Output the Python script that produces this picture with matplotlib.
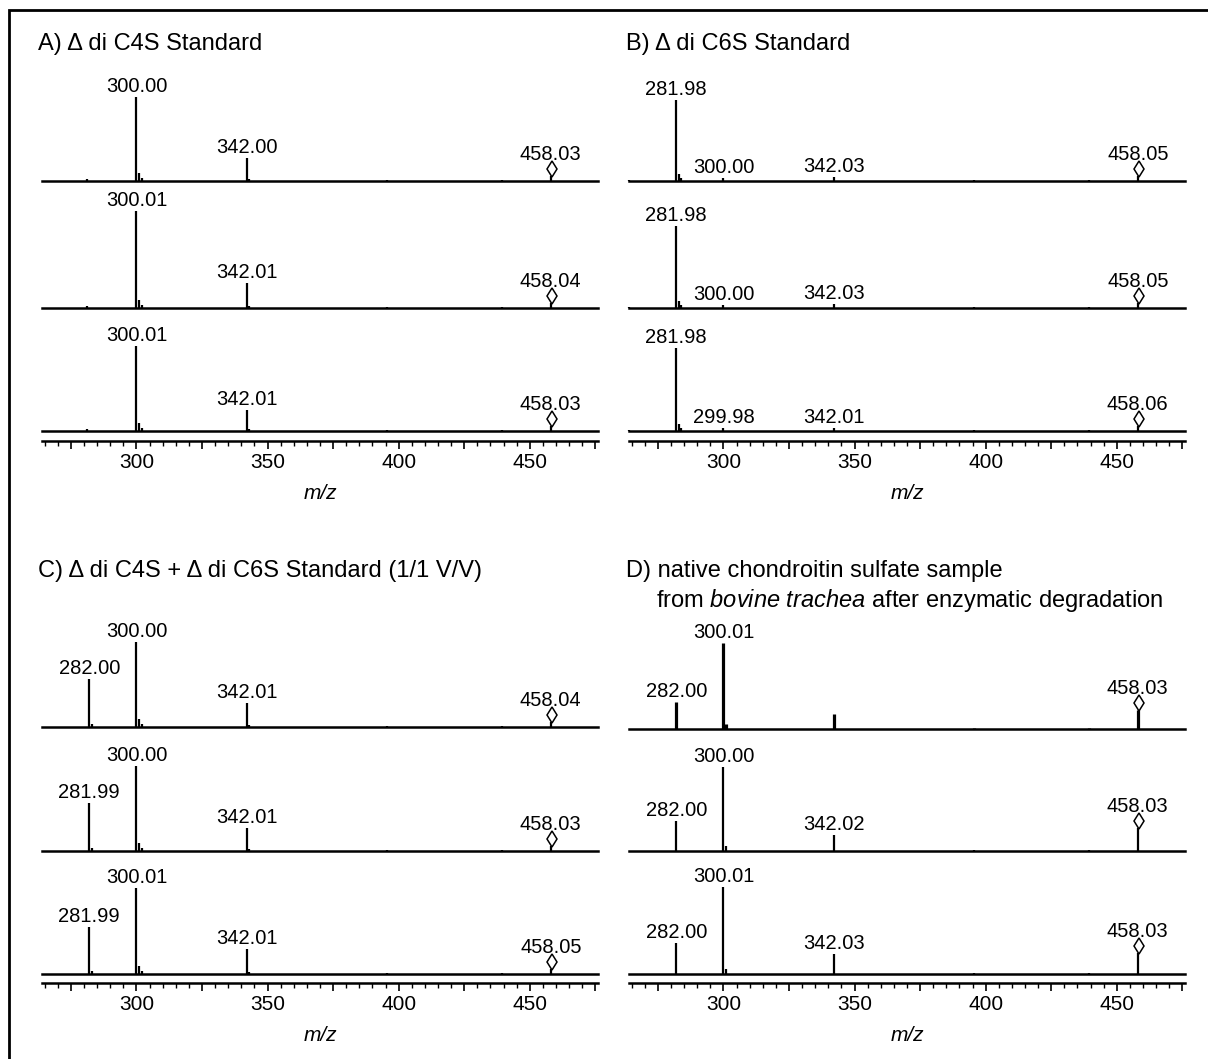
import matplotlib
matplotlib.use("Agg")
import matplotlib.pyplot as plt
from matplotlib.ticker import MultipleLocator, FuncFormatter
from matplotlib.transforms import offset_copy
from matplotlib.patches import Rectangle

plt.rcParams['font.family'] = ['Liberation Sans', 'DejaVu Sans']
plt.rcParams['mathtext.fontset'] = 'custom'
plt.rcParams['mathtext.rm'] = 'Liberation Sans'
plt.rcParams['mathtext.it'] = 'Liberation Sans:italic'

# ---- data (relative intensities) ----
a_mz = [281.0, 300.0, 301.0, 302.0, 342.0, 343.0, 395.5, 439.5, 458.0]
a_int = [
    [2, 100, 9, 3, 27, 2, 1.5, 1.5, 6],
    [2, 116, 10, 3, 30, 2, 1.5, 1.5, 6],
    [2, 101, 9, 3, 25, 2, 1.5, 1.5, 6],
]
a_label_mz = [300.0, 342.0, 458.0]
a_labels = [
    ["300.00", "342.00", "458.03"],
    ["300.01", "342.01", "458.04"],
    ["300.01", "342.01", "458.03"],
]

b_mz = [264.0, 282.0, 283.0, 284.0, 300.0, 342.0, 395.5, 439.5, 458.0]
b_int = [
    [1.5, 97, 8, 3, 4, 5, 1.5, 1.5, 6],
    [1.5, 98, 8, 3, 4, 5, 1.5, 1.5, 6],
    [1.5, 99, 8, 3, 4, 4, 1.5, 1.5, 6],
]
b_label_mz = [282.0, 300.0, 342.0, 458.0]
b_labels = [
    ["281.98", "300.00", "342.03", "458.05"],
    ["281.98", "300.00", "342.03", "458.05"],
    ["281.98", "299.98", "342.01", "458.06"],
]

c_mz = [282.0, 283.0, 300.0, 301.0, 302.0, 342.0, 343.0, 395.5, 439.5, 458.0]
c_int = [
    [57, 4, 101, 9, 3, 28, 2, 1.5, 1.5, 6],
    [57, 4, 101, 9, 3, 27, 2, 1.5, 1.5, 6],
    [56, 4, 102, 9, 3, 30, 2, 1.5, 1.5, 6],
]
c_label_mz = [282.0, 300.0, 342.0, 458.0]
c_labels = [
    ["282.00", "300.00", "342.01", "458.04"],
    ["281.99", "300.00", "342.01", "458.03"],
    ["281.99", "300.01", "342.01", "458.05"],
]

d_mz = [282.0, 300.0, 301.0, 342.0, 395.5, 439.5, 458.0]
d_int = [
    [32, 102, 6, 18, 1.5, 1.5, 23],
    [36, 100, 6, 19, 1.5, 1.5, 27],
    [37, 104, 6, 24, 1.5, 1.5, 25],
]
d_label_mz = [282.0, 300.0, 342.0, 458.0]
d_labels = [
    ["282.00", "300.01", None, "458.03"],
    ["282.00", "300.00", "342.02", "458.03"],
    ["282.00", "300.01", "342.03", "458.03"],
]

marked_mz = 458.0   # diamond marker

W, H = 1208, 1059
fig = plt.figure(figsize=(W / 100, H / 100), dpi=100)

XLIM = (264, 476)
PX_PER_UNIT = 0.84
TRACE_H = 120


def add_ax(left, bottom_px, width, height):
    return fig.add_axes([left / W, 1 - bottom_px / H, width / W, height / H])


def draw_trace(left, base_px, mz, inten, label_mz, labels, lw=1.6):
    ax = add_ax(left, base_px, 556, TRACE_H)
    ax.patch.set_visible(False)
    ax.set_xlim(*XLIM)
    ax.set_ylim(0, TRACE_H / PX_PER_UNIT)
    ax.axis('off')
    ax.axhline(0, color='black', lw=1.8, zorder=3, clip_on=False)
    ax.vlines(mz, 0, inten, color='black', lw=lw, clip_on=False)
    top = dict(zip(mz, inten))
    for m, lab in zip(label_mz, labels):
        h = top[m]
        if m == marked_mz:
            tr = offset_copy(ax.transData, fig=fig, y=7, units='dots')
            ax.plot([m + 0.4], [h], transform=tr, marker='d', ms=8,
                    mfc='white', mec='black', mew=1.1, clip_on=False)
            dy = 16
        else:
            dy = 5
        if lab is None:
            continue
        ax.annotate(lab, xy=(m, h), xytext=(0, dy), textcoords='offset pixels',
                    ha='center', va='baseline', fontsize=14.5)
    return ax


def draw_axis(left, y_px):
    ax = add_ax(left, y_px, 556, 1)
    ax.patch.set_visible(False)
    ax.set_xlim(*XLIM)
    ax.set_yticks([])
    for s in ['top', 'left', 'right']:
        ax.spines[s].set_visible(False)
    ax.spines['bottom'].set_linewidth(1.8)
    ax.xaxis.set_major_locator(MultipleLocator(25))
    ax.xaxis.set_minor_locator(MultipleLocator(5))
    ax.xaxis.set_major_formatter(FuncFormatter(lambda v, p: f"{v:.0f}" if v % 50 == 0 else ""))
    ax.tick_params(axis='x', which='major', length=6, width=1.2, direction='out',
                   labelsize=15, pad=3)
    ax.tick_params(axis='x', which='minor', length=3.5, width=1.0, direction='out')
    ax.set_xlabel('m/z', fontstyle='italic', fontsize=15, labelpad=8)


panels = [
    (42, [181, 308, 431], 441, a_mz, a_int, a_label_mz, a_labels),
    (629, [181, 308, 431], 441, b_mz, b_int, b_label_mz, b_labels),
    (42, [727, 851, 974], 983, c_mz, c_int, c_label_mz, c_labels),
    (629, [729, 851, 974], 983, d_mz, d_int, d_label_mz, d_labels),
]

for p, (left, bases, axis_y, mz, ints, lmz, labs) in enumerate(panels):
    for i, base in enumerate(bases):
        lw = 2.3 if (p == 3 and i == 0) else 1.6
        draw_trace(left, base, mz, ints[i], lmz, labs[i], lw=lw)
    draw_axis(left, axis_y)

tkw = dict(fontsize=17, va='center', ha='left')
fig.text(38 / W, 1 - 44 / H, "A) Δ di C4S Standard", **tkw)
fig.text(626 / W, 1 - 44 / H, "B) Δ di C6S Standard", **tkw)
fig.text(38 / W, 1 - 571 / H, "C) Δ di C4S + Δ di C6S Standard (1/1 V/V)", **tkw)
fig.text(626 / W, 1 - 571 / H, "D) native chondroitin sulfate sample", **tkw)
fig.text(656 / W, 1 - 600 / H, r"from $\it{bovine\ trachea}$ after enzymatic degradation", **tkw)

# outer frame (only top and left edges are inside the picture)
fig.add_artist(Rectangle((9 / W, -0.1), 1.2, 1.1 - 10 / H, transform=fig.transFigure,
                         fill=False, lw=2, edgecolor='black', clip_on=False))

fig.savefig('out.png', dpi=100)
